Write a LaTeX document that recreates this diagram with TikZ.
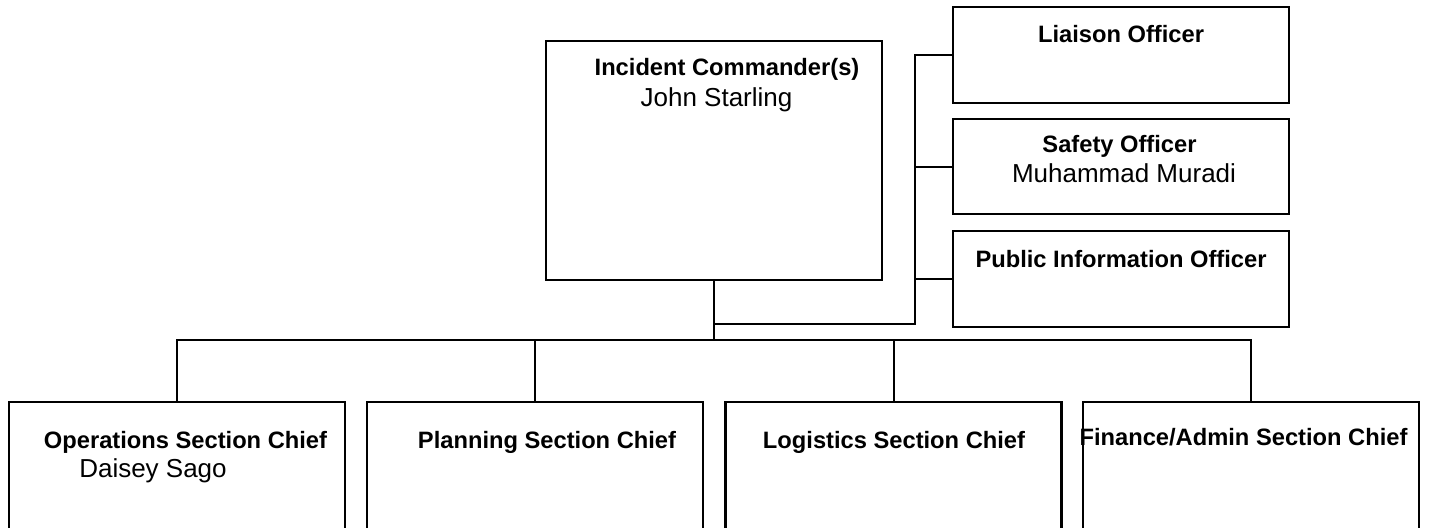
\documentclass[tikz,border=0pt]{standalone}
\usepackage{fontspec}
\setmainfont{Liberation Sans}
\begin{document}
\begin{tikzpicture}[x=1pt,y=-1pt,
  box/.style={draw, line width=2.5pt, minimum width=336pt, inner sep=0pt, outer sep=0pt},
  conn/.style={draw, line width=2pt},
  bt/.style={anchor=base, inner sep=0pt, font=\fontsize{23.7}{28}\selectfont\bfseries},
  rt/.style={anchor=base, inner sep=0pt, font=\fontsize{26}{30}\selectfont}]
\clip (0,0) rectangle (1431,527);
% boxes
\node[box, minimum height=239pt] (ic) at (714,160.5) {};
\node[box, minimum height=96pt] (lia) at (1121,55) {};
\node[box, minimum height=95pt] (saf) at (1121,166.5) {};
\node[box, minimum height=96pt] (pio) at (1121,279) {};
\node[box, minimum height=138pt] (ops) at (177,471) {};
\node[box, minimum height=138pt] (pla) at (535,471) {};
\node[box, minimum height=138pt] (log) at (893.5,471) {};
\node[box, minimum height=138pt] (fin) at (1251,471) {};
% texts
\node[bt] (ict) at (727,75) {Incident Commander(s)};
\node[rt] (icn) at (716.5,106) {John Starling};
\node[bt] (liat) at (1121,42) {Liaison Officer};
\node[bt] (saft) at (1119.5,152) {Safety Officer};
\node[rt] (safn) at (1124,182) {Muhammad Muradi};
\node[bt] (piot) at (1121,267) {Public Information Officer};
\node[bt] (opst) at (185.5,448) {Operations Section Chief};
\node[rt] (opsn) at (153,477) {Daisey Sago};
\node[bt] (plat) at (547,448) {Planning Section Chief};
\node[bt] (logt) at (894,448) {Logistics Section Chief};
\node[bt] (fint) at (1243.5,445) {Finance/Admin Section Chief};
% connectors
\coordinate (hub) at (714,340);
\coordinate (spine) at (915,324);
\draw[conn] (ic.south) -- (hub);
\draw[conn] (ic.south |- spine) -- (spine) -- (spine |- lia.west) -- (lia.west);
\draw[conn] (spine |- saf.west) -- (saf.west);
\draw[conn] (spine |- pio.west) -- (pio.west);
\draw[conn] (ops.north) -- (ops.north |- hub) -- (fin.north |- hub) -- (fin.north);
\draw[conn] (pla.north) -- (pla.north |- hub);
\draw[conn] (log.north) -- (log.north |- hub);
\end{tikzpicture}
\end{document}
